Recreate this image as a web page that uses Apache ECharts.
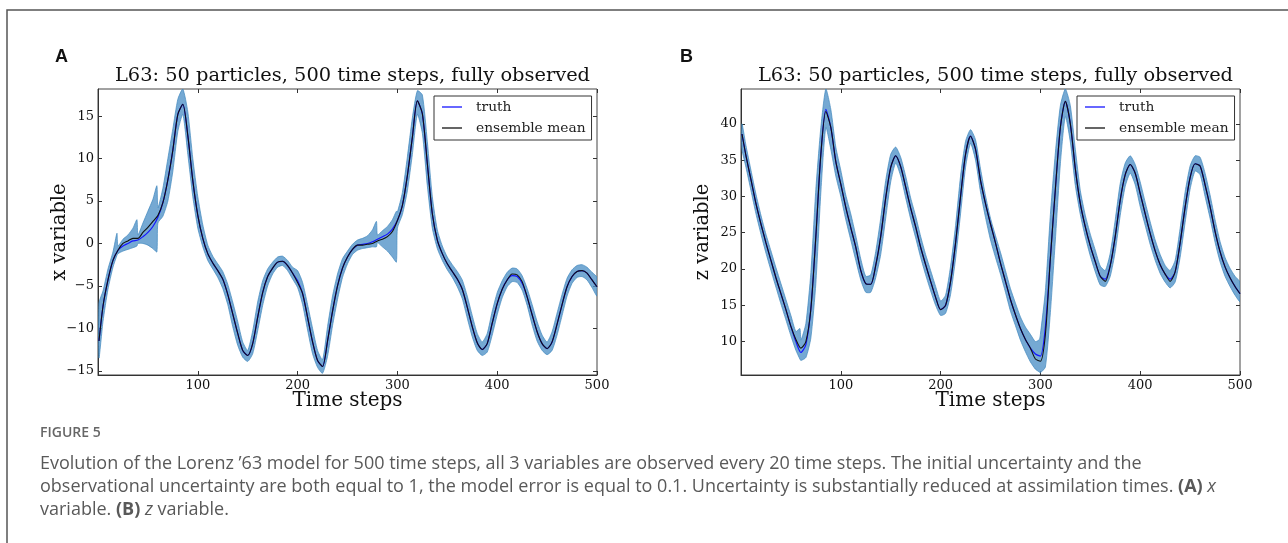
<!DOCTYPE html>
<html>
<head>
<meta charset="utf-8">
<script src="https://cdn.jsdelivr.net/npm/echarts@6/dist/echarts.min.js"></script>
<style>
  html, body { margin: 0; padding: 0; background: #fff; }
  #chart { width: 1288px; height: 543px; }
</style>
</head>
<body>
<div id="chart"></div>
<script>
// Time steps at which truth and ensemble mean are sampled
const steps = [1,5,10,15,20,25,30,35,40,45,50,55,60,65,70,75,80,85,90,95,100,105,110,115,120,125,130,135,140,145,150,155,160,165,170,175,180,185,190,195,200,205,210,215,220,225,230,235,240,245,250,255,260,265,270,275,280,285,290,295,300,305,310,315,320,325,330,335,340,345,350,355,360,365,370,375,380,385,390,395,400,405,410,415,420,425,430,435,440,445,450,455,460,465,470,475,480,485,490,495,500];

// Panel A: x variable
const truthX = [-11.5,-7.4,-4.3,-2.0,-0.8,-0.3,0.0,0.3,0.4,0.8,1.3,2.0,3.1,4.8,7.5,11.0,15.2,16.4,12.7,7.4,3.3,0.6,-1.2,-2.3,-3.2,-4.2,-6.0,-8.3,-10.6,-12.6,-13.2,-11.8,-8.7,-5.8,-3.9,-2.9,-2.2,-2.1,-2.6,-3.5,-4.4,-5.9,-8.7,-11.6,-13.8,-14.5,-11.5,-8.0,-5.0,-2.9,-1.6,-0.7,-0.2,-0.1,0.0,0.2,0.5,0.8,1.1,1.7,2.7,4.5,8.0,12.5,16.8,15.3,9.4,3.5,0.4,-1.2,-2.4,-3.3,-4.2,-5.4,-7.5,-9.8,-11.7,-12.5,-11.8,-9.4,-7.1,-5.4,-4.3,-3.8,-3.9,-4.7,-6.3,-8.4,-10.4,-11.8,-12.4,-11.6,-9.5,-7.2,-5.1,-3.9,-3.3,-3.2,-3.5,-4.3,-5.1];
const meanX = [-11.5,-7.4,-4.3,-2.0,-0.8,0.0,0.3,0.6,0.6,1.3,1.9,2.6,3.3,4.8,7.5,11.0,15.2,16.4,12.7,7.4,3.3,0.6,-1.2,-2.3,-3.2,-4.2,-6.0,-8.3,-10.6,-12.6,-13.2,-11.8,-8.7,-5.8,-3.9,-2.9,-2.2,-2.1,-2.6,-3.5,-4.6,-5.9,-8.7,-11.6,-13.8,-14.5,-11.5,-8.0,-5.0,-2.9,-1.6,-0.7,-0.2,-0.2,-0.1,0.0,0.3,0.5,0.8,1.4,2.7,4.5,8.0,12.5,16.8,15.3,9.4,3.5,0.4,-1.2,-2.4,-3.3,-4.2,-5.4,-7.5,-9.8,-11.7,-12.5,-11.8,-9.4,-7.1,-5.4,-4.3,-3.6,-3.7,-4.5,-6.3,-8.4,-10.4,-11.8,-12.4,-11.6,-9.5,-7.2,-5.1,-3.9,-3.3,-3.2,-3.5,-4.3,-5.1];

// Ensemble spread (lowest and highest particle) for the x variable
const spreadStepsX = [1,5,10,15,19,20,25,30,35,39,40,45,50,55,59,60,65,70,75,80,85,90,95,100,105,110,115,120,125,130,135,140,145,150,155,160,165,170,175,180,185,190,195,200,205,210,215,220,225,230,235,240,245,250,255,260,265,270,275,279,280,285,290,295,299,300,305,310,315,320,325,330,335,340,345,350,355,360,365,370,375,380,385,390,395,400,405,410,415,420,425,430,435,440,445,450,455,460,465,470,475,480,485,490,495,500];
const lowX = [-13.5,-9.2,-5.4,-2.8,-1.4,-1.2,-0.9,-0.7,-0.5,-0.3,0.0,0.0,-0.2,-0.6,-1.0,2.4,3.2,5.0,8.5,13.2,15.2,10.5,5.5,1.8,-0.4,-2.0,-3.0,-4.0,-5.3,-7.2,-9.8,-12.0,-13.4,-13.9,-13.0,-10.3,-7.3,-5.0,-3.6,-2.8,-2.6,-3.2,-4.2,-5.2,-7.2,-10.2,-13.0,-14.6,-15.3,-13.3,-9.7,-6.6,-4.0,-2.4,-1.3,-0.8,-0.6,-0.5,-0.4,-0.4,0.1,-0.4,-0.9,-1.6,-2.2,1.8,3.4,6.2,10.5,15.2,13.0,6.8,1.8,-0.6,-2.0,-3.1,-4.0,-5.1,-6.5,-8.8,-11.0,-12.6,-13.2,-12.8,-10.8,-8.4,-6.4,-5.1,-4.5,-4.6,-5.5,-7.3,-9.6,-11.5,-12.6,-13.1,-12.6,-10.8,-8.5,-6.2,-4.7,-4.0,-3.9,-4.3,-5.2,-6.2];
const highX = [-7.0,-5.6,-3.0,-1.0,1.2,-0.3,0.5,1.0,1.8,2.8,1.0,2.4,3.8,5.2,6.8,4.2,6.5,10.0,13.5,17.0,18.2,15.5,10.0,5.5,2.2,-0.2,-1.5,-2.4,-3.3,-4.8,-6.9,-9.2,-11.6,-12.6,-10.3,-6.9,-4.4,-3.0,-2.2,-1.6,-1.5,-2.0,-2.8,-3.2,-4.6,-7.2,-10.0,-12.6,-13.7,-9.8,-6.2,-3.6,-1.8,-0.9,-0.1,0.4,0.6,0.9,1.6,2.6,1.0,1.5,2.0,2.8,3.8,3.7,6.0,10.2,14.8,18.0,17.5,12.0,5.5,1.6,-0.3,-1.6,-2.5,-3.3,-4.3,-6.2,-8.5,-10.6,-11.6,-10.6,-8.0,-5.8,-4.4,-3.4,-2.9,-3.0,-3.8,-5.3,-7.2,-9.2,-10.8,-11.6,-10.4,-8.2,-6.0,-4.1,-3.1,-2.6,-2.5,-2.8,-3.4,-4.0];

// Panel B: z variable
const truthZ = [38.6,35.6,32.3,29.0,26.2,23.6,21.2,18.8,16.6,14.4,12.1,10.0,8.5,9.6,14.5,24.5,35.8,42.0,39.5,34.8,31.7,28.5,25.7,23.0,19.8,18.0,17.9,20.5,24.5,29.8,34.0,35.6,34.1,31.3,28.4,25.8,23.0,20.6,18.3,16.1,14.4,15.0,18.3,23.6,30.0,35.8,38.3,36.5,32.2,29.0,26.2,23.6,20.8,18.3,15.8,13.7,11.8,10.3,9.1,8.3,8.0,12.0,21.5,31.0,39.5,43.1,40.0,33.8,29.0,25.8,23.2,21.0,19.0,18.6,20.5,24.5,29.5,33.0,34.4,33.2,30.4,27.6,24.9,22.5,20.6,19.3,18.6,19.6,23.6,28.5,32.6,34.5,34.2,31.6,28.6,25.2,22.4,20.3,18.8,17.6,16.6];
const meanZ = [38.6,35.6,32.3,29.0,26.2,23.6,21.2,18.8,16.6,14.4,12.1,10.3,9.1,10.0,14.5,24.5,35.8,41.7,39.5,34.8,31.7,28.5,25.7,23.0,19.8,18.0,17.9,20.5,24.5,29.8,34.0,35.6,34.1,31.3,28.4,25.8,23.0,20.6,18.3,16.1,14.4,15.0,18.3,23.6,30.0,35.8,38.3,36.5,32.2,29.0,26.2,23.6,20.8,18.3,15.8,13.7,11.8,10.3,9.1,7.6,7.3,11.0,21.5,31.0,39.5,43.1,40.0,33.8,29.0,25.8,23.2,21.0,19.0,18.3,20.5,24.5,29.5,33.0,34.4,33.2,30.4,27.6,24.9,22.5,20.6,19.3,18.3,19.6,23.6,28.5,32.6,34.5,34.2,31.6,28.6,25.2,22.4,20.3,18.8,17.6,16.6];

// Ensemble spread for the z variable
const spreadStepsZ = [1,5,10,15,20,25,30,35,40,45,50,55,59,60,65,70,75,80,85,90,95,100,105,110,115,120,125,130,135,140,145,150,155,160,165,170,175,180,185,190,195,200,205,210,215,220,225,230,235,240,245,250,255,260,265,270,275,280,285,290,295,299,300,305,310,315,320,325,330,335,340,345,350,355,360,365,370,375,380,385,390,395,400,405,410,415,420,425,430,435,440,445,450,455,460,465,470,475,480,485,490,495,500];
const lowZ = [36.5,34.0,30.8,27.6,24.8,22.2,19.8,17.5,15.2,13.0,10.8,8.8,7.6,7.4,7.8,10.5,18.0,30.5,39.5,36.5,32.8,30.0,26.8,24.0,21.2,18.5,16.8,16.8,18.8,22.0,27.0,32.0,34.6,32.8,29.8,26.9,24.3,21.6,19.2,17.0,15.0,13.6,13.9,16.5,21.4,27.6,34.0,37.3,35.0,30.6,27.1,24.0,21.6,19.3,16.8,14.2,12.2,10.2,8.6,7.2,6.2,5.8,5.7,6.5,14.0,24.0,34.5,41.0,37.5,31.5,27.5,24.4,21.8,19.6,17.8,17.6,19.0,22.4,27.4,31.4,33.2,31.6,28.6,26.0,23.4,21.2,19.4,18.2,17.4,18.2,21.6,26.4,31.0,33.5,33.0,30.0,27.0,23.7,21.0,19.0,17.6,16.4,15.5];
const highZ = [40.0,37.0,33.6,30.3,27.4,24.8,22.5,20.2,18.0,15.8,13.6,11.4,11.8,10.2,12.5,19.5,31.0,39.5,44.8,42.0,36.8,33.6,30.2,27.6,24.6,21.4,19.0,19.2,22.4,27.0,32.2,35.8,36.8,35.4,32.8,29.8,27.3,24.5,22.0,19.8,17.6,15.6,16.4,20.4,26.0,32.8,37.6,39.2,37.8,33.8,30.1,27.0,24.6,22.3,19.8,17.3,15.3,13.4,12.0,11.0,10.0,10.3,11.0,17.0,27.5,36.0,42.5,44.8,42.5,36.5,30.8,27.4,24.8,22.6,20.4,19.8,22.2,26.8,31.8,34.6,35.6,34.4,32.0,29.2,26.5,24.0,22.0,20.5,19.8,21.2,25.6,30.6,34.2,35.6,35.4,33.2,30.2,26.8,23.8,21.6,20.1,19.0,18.2];

// Axis ranges and tick values
const timeTicks = [100, 200, 300, 400, 500];
const xVarTicks = [-15, -10, -5, 0, 5, 10, 15];
const zVarTicks = [10, 15, 20, 25, 30, 35, 40];
const xVarRange = [-15.5, 18.2];
const zVarRange = [5.4, 44.8];

const titleText = 'L63: 50 particles, 500 time steps, fully observed';
const legendNames = ['truth', 'ensemble mean'];

const SERIF = '"DejaVu Serif", serif';
const pair = (xs, ys) => xs.map((x, i) => [x, ys[i]]);
const minus = v => String(v).replace('-', '\u2212');

const gridA = { left: 98, top: 89, width: 499, height: 286 };
const gridB = { left: 741, top: 89, width: 499, height: 286 };

function timeAxis(gridIndex, top) {
  return {
    type: 'value', gridIndex, position: top ? 'top' : 'bottom',
    min: 0, max: 500,
    name: top ? '' : 'Time steps', nameLocation: 'middle', nameGap: 16, nameMoveOverlap: false,
    nameTextStyle: { fontFamily: SERIF, fontSize: 20, color: '#111', verticalAlign: 'top' },
    axisLine: { show: !top, onZero: false, lineStyle: { color: '#333', width: 1 } },
    axisTick: { show: true, inside: true, length: 4, customValues: timeTicks, lineStyle: { color: '#333' } },
    axisLabel: { show: !top, customValues: timeTicks, margin: 4, fontFamily: SERIF, fontSize: 13, color: '#111' },
    splitLine: { show: false }
  };
}
function valueAxis(gridIndex, right, range, ticks, name) {
  return {
    type: 'value', gridIndex, position: right ? 'right' : 'left',
    min: range[0], max: range[1],
    name: right ? '' : name, nameLocation: 'middle', nameGap: 28, nameRotate: 90, nameMoveOverlap: false,
    nameTextStyle: { fontFamily: SERIF, fontSize: 19.5, color: '#111' },
    axisLine: { show: !right, onZero: false, lineStyle: { color: '#333', width: 1 } },
    axisTick: { show: true, inside: true, length: 4, customValues: ticks, lineStyle: { color: '#333' } },
    axisLabel: { show: !right, customValues: ticks, margin: 4, fontFamily: SERIF, fontSize: 13, color: '#111', formatter: minus },
    splitLine: { show: false }
  };
}

// Ensemble spread drawn as one filled polygon between the lowest and highest particle
const bandFill = 'rgba(82,148,200,0.8)';
const bandEdge = '#3f86bd';
function bandSeries(axisIdx, stepsArr, lo, hi) {
  return {
    name: 'ensemble', type: 'custom', xAxisIndex: axisIdx, yAxisIndex: axisIdx,
    silent: true, clip: true, z: 1,
    data: stepsArr.map((x, i) => [x, lo[i], hi[i]]),
    encode: { x: 0, y: [1, 2] },
    renderItem: (params, api) => {
      if (params.dataIndex !== 0) return null;
      const upper = stepsArr.map((x, i) => api.coord([x, hi[i]]));
      const lower = stepsArr.map((x, i) => api.coord([x, lo[i]])).reverse();
      const cs = params.coordSys;
      return {
        type: 'polygon',
        shape: { points: upper.concat(lower), smooth: 0.2 },
        style: { fill: bandFill, stroke: bandEdge, lineWidth: 0.7 },
        clipPath: { type: 'rect', shape: { x: cs.x, y: cs.y, width: cs.width, height: cs.height } }
      };
    }
  };
}
function curveSeries(axisIdx, name, ys, color, w) {
  return { name, type: 'line', xAxisIndex: axisIdx, yAxisIndex: axisIdx, smooth: 0.25,
    data: pair(steps, ys), symbol: 'none', lineStyle: { color, width: w }, itemStyle: { color }, z: 3 };
}
function legendAt(left) {
  return {
    data: legendNames, orient: 'vertical', left, top: 96,
    icon: 'path://M0,0H20V1.3H0Z',
    itemWidth: 20, itemHeight: 14, itemGap: 7, padding: [4, 6, 5, 8],
    borderColor: '#333', borderWidth: 1, backgroundColor: '#fff', selectedMode: false,
    textStyle: { fontFamily: SERIF, fontSize: 13.8, color: '#222', padding: [0, 0, 0, 9] }
  };
}

const chart = echarts.init(document.getElementById('chart'), null, { renderer: 'canvas' });
const captionRich = {
  b: { fontWeight: 'bold', fontFamily: 'Open Sans', fontSize: 18, fill: '#595959' },
  i: { fontStyle: 'italic', fontFamily: 'Open Sans', fontSize: 18, fill: '#595959' }
};
chart.setOption({
  animation: false,
  backgroundColor: '#fff',
  title: [
    { text: titleText, left: 347.5, top: 61, textAlign: 'center',
      textStyle: { fontFamily: SERIF, fontSize: 19.4, fontWeight: 'normal', color: '#111' } },
    { text: titleText, left: 990.5, top: 61, textAlign: 'center',
      textStyle: { fontFamily: SERIF, fontSize: 19.4, fontWeight: 'normal', color: '#111' } }
  ],
  legend: [legendAt(434), legendAt(1077)],
  grid: [
    Object.assign({ show: true, borderColor: '#444', borderWidth: 1, backgroundColor: 'transparent' }, gridA),
    Object.assign({ show: true, borderColor: '#444', borderWidth: 1, backgroundColor: 'transparent' }, gridB)
  ],
  xAxis: [timeAxis(0, false), timeAxis(1, false), timeAxis(0, true), timeAxis(1, true)],
  yAxis: [
    valueAxis(0, false, xVarRange, xVarTicks, 'x variable'),
    valueAxis(1, false, zVarRange, zVarTicks, 'z variable'),
    valueAxis(0, true, xVarRange, xVarTicks, ''),
    valueAxis(1, true, zVarRange, zVarTicks, '')
  ],
  series: [
    bandSeries(0, spreadStepsX, lowX, highX),
    curveSeries(0, 'truth', truthX, '#1515ff', 1.2),
    curveSeries(0, 'ensemble mean', meanX, '#111111', 1.1),
    bandSeries(1, spreadStepsZ, lowZ, highZ),
    curveSeries(1, 'truth', truthZ, '#1515ff', 1.2),
    curveSeries(1, 'ensemble mean', meanZ, '#111111', 1.1)
  ],
  graphic: [
    { type: 'polyline', silent: true, shape: { points: [[7, 543], [7, 10], [1288, 10]] },
      style: { stroke: '#555', lineWidth: 1.5, fill: null } },
    { type: 'text', left: 55, top: 48, style: { text: 'A', font: 'bold 18px "Liberation Sans", Arial, sans-serif', fill: '#111' } },
    { type: 'text', left: 680, top: 48, style: { text: 'B', font: 'bold 18px "Liberation Sans", Arial, sans-serif', fill: '#111' } },
    { type: 'text', left: 40, top: 426, style: { text: 'FIGURE 5', font: '600 14px "Open Sans", sans-serif', fill: '#666' } },
    { type: 'text', left: 40, top: 455, style: {
        text: 'Evolution of the Lorenz \u201963 model for 500 time steps, all 3 variables are observed every 20 time steps. The initial uncertainty and the',
        font: '18px "Open Sans", sans-serif', fill: '#595959' } },
    { type: 'text', left: 40, top: 478, style: {
        text: 'observational uncertainty are both equal to 1, the model error is equal to 0.1. Uncertainty is substantially reduced at assimilation times. {b|(A)} {i|x}',
        font: '18px "Open Sans", sans-serif', fill: '#595959', rich: captionRich } },
    { type: 'text', left: 40, top: 501, style: {
        text: 'variable. {b|(B)} {i|z} variable.',
        font: '18px "Open Sans", sans-serif', fill: '#595959', rich: captionRich } }
  ]
});
</script>
</body>
</html>
